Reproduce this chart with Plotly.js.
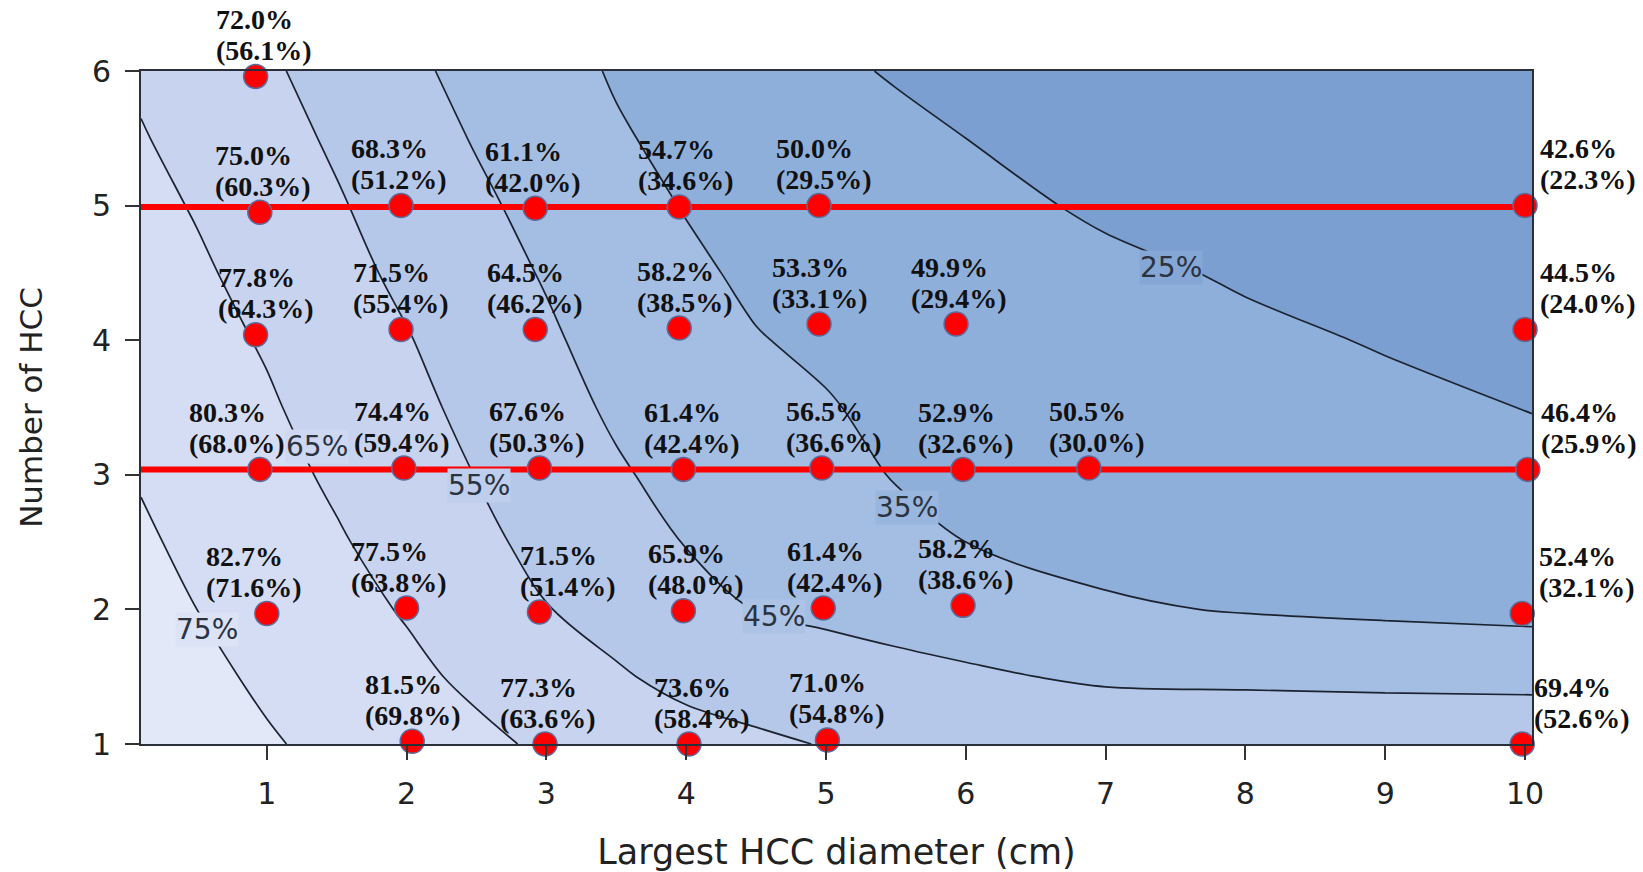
<!DOCTYPE html>
<html>
<head>
<meta charset="utf-8">
<script src="https://cdn.plot.ly/plotly-3.0.1.min.js"></script>
<style>
html, body { margin: 0; padding: 0; background: #ffffff; }
#chart { width: 1643px; height: 872px; }
</style>
</head>
<body>
<div id="chart"></div>
<script>
const gridX = [0.1, 0.5, 1, 1.5, 2, 2.5, 3, 3.5, 4, 4.5, 5, 5.5, 6, 7, 8, 9, 10.05];
const gridY = [1, 1.5, 2, 2.5, 3, 3.5, 4, 4.5, 5, 5.5, 6];
const gridZ = [
  [81.5, 79.5, 75.9, 72.7, 70.0, 67.0, 63.6, 61.5, 58.5, 56.5, 54.6, 54.2, 53.9, 53.5, 53.2, 52.9, 52.6],
  [79.8, 77.2, 73.5, 70.3, 67.0, 63.2, 59.5, 56.0, 52.5, 50.5, 48.5, 47.8, 46.5, 43.5, 43.0, 42.5, 42.2],
  [78.1, 75.0, 71.4, 68.0, 64.3, 59.5, 55.3, 51.7, 48.0, 44.8, 43.5, 41.5, 39.5, 36.0, 34.5, 33.5, 32.5],
  [76.2, 73.1, 69.5, 65.8, 61.8, 57.0, 52.6, 48.5, 44.7, 41.5, 40.0, 37.2, 35.0, 32.5, 31.0, 30.0, 28.5],
  [74.4, 71.3, 67.7, 63.7, 59.6, 54.8, 50.3, 46.0, 42.3, 39.0, 37.5, 34.6, 32.5, 30.5, 28.8, 27.5, 26.0],
  [72.6, 69.6, 66.0, 61.6, 57.5, 52.6, 48.2, 43.7, 40.2, 37.0, 35.6, 33.0, 30.8, 28.8, 27.2, 26.0, 24.9],
  [70.8, 67.9, 64.2, 59.6, 55.5, 50.6, 46.3, 41.6, 38.4, 35.4, 33.5, 31.3, 29.3, 27.4, 25.9, 24.7, 24.0],
  [69.0, 66.2, 62.2, 57.7, 53.2, 48.6, 44.3, 39.6, 36.5, 33.5, 31.5, 29.6, 27.8, 26.0, 24.5, 23.6, 23.1],
  [67.3, 64.4, 60.2, 55.8, 51.2, 46.6, 42.2, 37.8, 34.6, 31.6, 29.6, 27.9, 26.4, 24.3, 23.3, 22.7, 22.3],
  [65.5, 62.5, 58.2, 53.8, 49.0, 44.4, 40.1, 35.9, 32.8, 29.8, 27.8, 26.2, 25.0, 23.2, 22.4, 21.9, 21.5],
  [63.8, 60.6, 56.2, 51.9, 46.9, 42.3, 38.2, 34.2, 31.2, 28.2, 25.9, 24.6, 23.7, 22.3, 21.6, 21.2, 20.8]
];

// ---- contour level labels ----
const levelValues = [75, 65, 55, 45, 35, 25];
const levelLabelX = [0.57, 1.36, 2.52, 4.63, 5.58, 7.47];
const levelLabelY = [1.85, 3.21, 2.92, 1.95, 2.76, 4.54];

// ---- points: largest diameter, number of HCC, survival, (value in brackets) ----
const pointX = [0.92,
  0.95, 1.96, 2.92, 3.95, 4.95, 10.0,
  0.92, 1.96, 2.92, 3.95, 4.95, 5.93, 10.0,
  0.95, 1.98, 2.95, 3.98, 4.97, 5.98, 6.88, 10.02,
  1.0, 2.0, 2.95, 3.98, 4.98, 5.98, 9.98,
  2.04, 2.99, 4.02, 5.01, 9.98];
const pointY = [5.96,
  4.95, 5.0, 4.98, 4.99, 5.0, 5.0,
  4.04, 4.08, 4.08, 4.09, 4.12, 4.12, 4.08,
  3.04, 3.05, 3.05, 3.04, 3.05, 3.04, 3.05, 3.04,
  1.97, 2.01, 1.98, 1.99, 2.01, 2.03, 1.97,
  1.02, 1.0, 1.0, 1.03, 1.0];
const survival = [72.0,
  75.0, 68.3, 61.1, 54.7, 50.0, 42.6,
  77.8, 71.5, 64.5, 58.2, 53.3, 49.9, 44.5,
  80.3, 74.4, 67.6, 61.4, 56.5, 52.9, 50.5, 46.4,
  82.7, 77.5, 71.5, 65.9, 61.4, 58.2, 52.4,
  81.5, 77.3, 73.6, 71.0, 69.4];
const survivalBracket = [56.1,
  60.3, 51.2, 42.0, 34.6, 29.5, 22.3,
  64.3, 55.4, 46.2, 38.5, 33.1, 29.4, 24.0,
  68.0, 59.4, 50.3, 42.4, 36.6, 32.6, 30.0, 25.9,
  71.6, 63.8, 51.4, 48.0, 42.4, 38.6, 32.1,
  69.8, 63.6, 58.4, 54.8, 52.6];

// ---- red reference lines ----
const refLineY = [4.99, 3.04];
const refLineX = [0.1, 10.55];

// ---- layout tuning (pixels): horizontal offset of each point's label block ----
const labelDx = [-42,
  -47, -52, -52, -43, -45, 13,
  -40, -50, -50, -44, -49, -47, 13,
  -73, -52, -52, -41, -38, -47, -42, 11,
  -63, -58, -21, -37, -38, -47, 15,
  -49, -47, -37, -40, 10];

// ---- styling / layout ----
const W = 1643, H = 872;
const M = {l: 141, r: 111, t: 71, b: 128};
const X_RANGE = [0.1, 10.05];
const Y_RANGE = [1, 6];
const pxPerY = (H - M.t - M.b) / (Y_RANGE[1] - Y_RANGE[0]);

const bandColors = ['#7a9fd0', '#8fafdb', '#a3bde3', '#b5c8e9', '#c7d3ef', '#d5ddf4', '#e3e8f9'];
// stepped colour scale over plotly's fill domain (15..75); each band colour covers
// values L-4 .. L+6 for a band starting at level L, so lookups at L or L+5 agree
const cuts = [21, 31, 41, 51, 61, 71].map(v => (v - 15) / 60);
const colorscale = [[0, bandColors[0]]];
cuts.forEach((c, k) => {
  colorscale.push([c, bandColors[k]]);
  colorscale.push([c + 1e-4, bandColors[k + 1]]);
});
colorscale.push([1, bandColors[6]]);

function hexToRgb(h) { return [1,3,5].map(i => parseInt(h.substr(i,2),16)); }
function mix(a, b) {
  const A = hexToRgb(a), B = hexToRgb(b);
  return 'rgb(' + A.map((v,i) => Math.round((v + B[i]) / 2)).join(',') + ')';
}

const traces = [];
traces.push({
  type: 'contour',
  x: gridX, y: gridY, z: gridZ,
  autocontour: false,
  contours: {start: 25, end: 75, size: 10, coloring: 'fill', showlabels: false},
  colorscale: colorscale,
  showscale: false,
  line: {color: '#1b2331', width: 1.7, smoothing: 1},
  hoverinfo: 'skip'
});
refLineY.forEach(yv => {
  traces.push({
    type: 'scatter', mode: 'lines',
    x: refLineX, y: [yv, yv],
    line: {color: '#ff0000', width: 6},
    cliponaxis: false, hoverinfo: 'skip', showlegend: false
  });
});
traces.push({
  type: 'scatter', mode: 'markers',
  x: pointX, y: pointY,
  marker: {size: 24, color: '#ff0000', line: {color: '#5b6c9c', width: 1.5}},
  cliponaxis: false, hoverinfo: 'skip', showlegend: false
});

const annotations = [];
levelValues.forEach((lv, i) => {
  const k = (lv - 25) / 10; // bands on either side of this level
  annotations.push({
    x: levelLabelX[i], y: levelLabelY[i], xref: 'x', yref: 'y', showarrow: false,
    text: lv + '%',
    bgcolor: mix(bandColors[k], bandColors[k + 1]),
    borderpad: 0,
    font: {family: '"DejaVu Sans", Verdana, sans-serif', size: 28, color: '#2b3340'}
  });
});
const labelFont = {family: '"Liberation Serif", "Times New Roman", serif', size: 28, color: '#111111'};
pointX.forEach((xv, i) => {
  const yv = pointY[i];
  const anchorY = Math.max(yv, Y_RANGE[0]);
  const extra = (yv - anchorY) * pxPerY;
  const xs = labelDx[i];
  annotations.push({
    x: xv, y: anchorY, xref: 'x', yref: 'y', showarrow: false,
    text: '<b>' + survival[i].toFixed(1) + '%</b>',
    xanchor: 'left', yanchor: 'middle', xshift: xs, yshift: 57 + extra,
    font: labelFont
  });
  annotations.push({
    x: xv, y: anchorY, xref: 'x', yref: 'y', showarrow: false,
    text: '<b>(' + survivalBracket[i].toFixed(1) + '%)</b>',
    xanchor: 'left', yanchor: 'middle', xshift: xs, yshift: 26 + extra,
    font: labelFont
  });
});

const axisFont = {family: '"DejaVu Sans", Verdana, sans-serif', size: 30, color: '#222222'};

const layout = {
  width: W, height: H,
  margin: M,
  paper_bgcolor: '#ffffff', plot_bgcolor: '#ffffff',
  showlegend: false,
  xaxis: {
    range: X_RANGE, tickvals: [1,2,3,4,5,6,7,8,9,10],
    ticks: 'outside', ticklen: 14, tickwidth: 2, tickcolor: '#333333',
    showline: true, linecolor: '#2a2f3a', linewidth: 2, mirror: true,
    showgrid: false, zeroline: false,
    tickfont: axisFont, ticklabelstandoff: 8,
    title: {text: 'Largest HCC diameter (cm)', standoff: 33,
            font: {family: '"DejaVu Sans", Verdana, sans-serif', size: 35, color: '#222222'}}
  },
  yaxis: {
    range: Y_RANGE, tickvals: [1,2,3,4,5,6],
    ticks: 'outside', ticklen: 14, tickwidth: 2, tickcolor: '#333333',
    showline: true, linecolor: '#2a2f3a', linewidth: 2, mirror: true,
    showgrid: false, zeroline: false,
    tickfont: axisFont, ticklabelstandoff: 8,
    title: {text: 'Number of HCC', standoff: 40,
            font: {family: '"DejaVu Sans", Verdana, sans-serif', size: 31, color: '#222222'}}
  },
  annotations: annotations
};

Plotly.newPlot('chart', traces, layout, {displayModeBar: false, staticPlot: true});
</script>
</body>
</html>
